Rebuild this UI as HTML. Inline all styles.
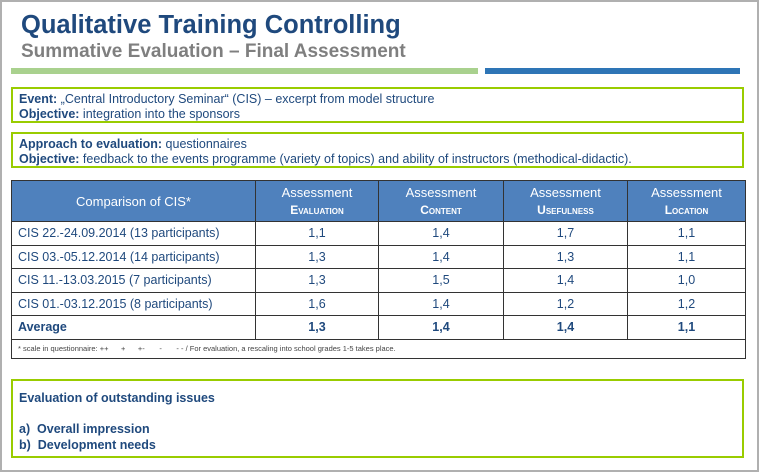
<!DOCTYPE html>
<html><head><style>
*{margin:0;padding:0;box-sizing:border-box}
body{width:759px;height:472px;background:#fff;position:relative;overflow:hidden;font-family:"Liberation Sans",Arial,sans-serif;color:#1f497d}
.frame{position:absolute;left:0;top:0;width:759px;height:472px;border:2px solid #b0b0b0}
.a{position:absolute;white-space:nowrap}
.box{position:absolute;border:2px solid #99cc00;left:11px;width:733px}
.box div{font-size:12.5px;line-height:15px;padding-left:6px}
b{font-weight:bold}
table{position:absolute;left:11px;top:180px;width:735px;border-collapse:collapse;font-size:12.5px}
td,th{border:1px solid #333;text-align:center}
th{background:#4f81bd;color:#fff;font-weight:normal;height:41px;line-height:17px;border-color:#333;font-size:13px}
.sc{font-size:12px;font-weight:bold;font-variant:small-caps}
td{height:23.5px}
td:first-child{text-align:left;padding-left:6px}
.avg td{font-weight:bold}
.fn td{font-size:7.5px;height:19px;text-align:left;padding-left:6px;color:#444}
</style></head><body>
<div class="frame"></div>
<div class="a" style="left:21px;top:11px;font-size:25.5px;font-weight:bold;color:#1f497d">Qualitative Training Controlling</div>
<div class="a" style="left:21px;top:41px;font-size:19px;font-weight:bold;color:#7f7f7f">Summative Evaluation – Final Assessment</div>
<div class="a" style="left:11px;top:68px;width:467px;height:6px;background:#a9d18e"></div>
<div class="a" style="left:485px;top:68px;width:255px;height:6px;background:#2e75b6"></div>
<div class="box" style="top:87px;height:36px;padding-top:3px">
<div><b>Event:</b> „Central Introductory Seminar“ (CIS) – excerpt from model structure</div>
<div><b>Objective:</b> integration into the sponsors</div></div>
<div class="box" style="top:132px;height:36px;padding-top:3px">
<div><b>Approach to evaluation:</b> questionnaires</div>
<div><b>Objective:</b> feedback to the events programme (variety of topics) and ability of instructors (methodical-didactic).</div></div>
<table>
<tr><th style="width:244px">Comparison of CIS*</th><th style="width:123px">Assessment<br><span class="sc">Evaluation</span></th><th style="width:125px">Assessment<br><span class="sc">Content</span></th><th style="width:124px">Assessment<br><span class="sc">Usefulness</span></th><th>Assessment<br><span class="sc">Location</span></th></tr>
<tr><td>CIS 22.-24.09.2014 (13 participants)</td><td>1,1</td><td>1,4</td><td>1,7</td><td>1,1</td></tr>
<tr><td>CIS 03.-05.12.2014 (14 participants)</td><td>1,3</td><td>1,4</td><td>1,3</td><td>1,1</td></tr>
<tr><td>CIS 11.-13.03.2015 (7 participants)</td><td>1,3</td><td>1,5</td><td>1,4</td><td>1,0</td></tr>
<tr><td>CIS 01.-03.12.2015 (8 participants)</td><td>1,6</td><td>1,4</td><td>1,2</td><td>1,2</td></tr>
<tr class="avg"><td>Average</td><td>1,3</td><td>1,4</td><td>1,4</td><td>1,1</td></tr>
<tr class="fn"><td colspan="5">* scale in questionnaire: ++ &nbsp;&nbsp;&nbsp;&nbsp; + &nbsp;&nbsp;&nbsp;&nbsp; +- &nbsp;&nbsp;&nbsp;&nbsp;&nbsp; - &nbsp;&nbsp;&nbsp;&nbsp;&nbsp; - - / For evaluation, a rescaling into school grades 1-5 takes place.</td></tr>
</table>
<div class="box" style="top:379px;height:79px;padding-top:10px">
<div style="font-weight:bold">Evaluation of outstanding issues</div>
<div style="height:15px"></div>
<div style="font-weight:bold;line-height:16px">a)&nbsp; Overall impression</div>
<div style="font-weight:bold;line-height:16px">b)&nbsp; Development needs</div>
</div>
</body></html>
